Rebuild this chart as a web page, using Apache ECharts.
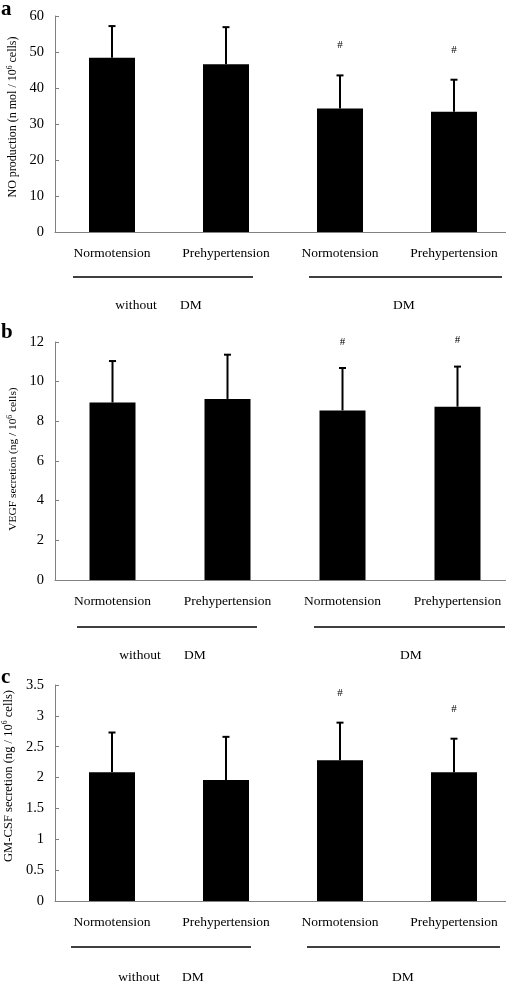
<!DOCTYPE html>
<html><head><meta charset="utf-8">
<script src="https://cdn.jsdelivr.net/npm/echarts@6/dist/echarts.min.js"></script>
<style>html,body{margin:0;padding:0;background:#fff}#c{width:506px;height:981px}</style>
</head><body><div id="c"></div>
<script>
var categories = ['Normotension', 'Prehypertension', 'Normotension', 'Prehypertension'];
var noMeans = [48.4, 46.6, 34.3, 33.4];
var noErrTop = [57.2, 56.9, 43.5, 42.3];
var vegfMeans = [8.95, 9.13, 8.55, 8.74];
var vegfErrTop = [11.04, 11.36, 10.69, 10.76];
var gmMeans = [2.085, 1.96, 2.28, 2.085];
var gmErrTop = [2.73, 2.66, 2.89, 2.63];
var sigFlags = [false, false, true, true];
var yMax = [60, 12, 3.5];
var yInterval = [10, 2, 0.5];
var yNames = ['NO production (n mol / 10', 'VEGF secretion (ng / 10', 'GM-CSF secretion (ng / 10'];
var groupLabels = ['without', 'DM', 'DM'];
var panelLetters = ['a', 'b', 'c'];

var FONT = '"Liberation Serif","Times New Roman",serif';
var means = [noMeans, vegfMeans, gmMeans];
var errs = [noErrTop, vegfErrTop, gmErrTop];
var grids = [
  {left: 55, top: 16, width: 456, height: 216, outerBoundsMode: 'none', containLabel: false},
  {left: 55, top: 342, width: 460, height: 238, outerBoundsMode: 'none', containLabel: false},
  {left: 55, top: 685, width: 456, height: 216, outerBoundsMode: 'none', containLabel: false}
];
var hashGap = [30, 26, 30];
var nameSize = [12, 11.4, 12.6];
var nameShift = [14, 4, 34];

var xAxes = [], yAxes = [], series = [];
for (var i = 0; i < 3; i++) {
  xAxes.push({
    type: 'category', gridIndex: i, data: categories,
    axisLine: {lineStyle: {color: '#808080', width: 1}},
    axisTick: {show: false},
    axisLabel: {color: '#000', fontFamily: FONT, fontSize: 13.5, margin: 14, interval: 0}
  });
  yAxes.push({
    type: 'value', gridIndex: i, min: 0, max: yMax[i], interval: yInterval[i],
    axisLine: {show: true, lineStyle: {color: '#808080', width: 1}},
    axisTick: {show: true, inside: true, length: 4, lineStyle: {color: '#808080'}},
    splitLine: {show: false},
    axisLabel: {color: '#000', fontFamily: FONT, fontSize: 14.5, margin: 11},
    name: '{a|' + yNames[i] + '}{s|6}{a| cells)}',
    nameLocation: 'middle', nameGap: 35, nameRotate: 90,
    nameTextStyle: {padding: [0, 0, 0, nameShift[i]], rich: {
      a: {fontFamily: FONT, fontSize: nameSize[i], color: '#000'},
      s: {fontFamily: FONT, fontSize: 7.5, color: '#000', verticalAlign: 'top', padding: [0, 0, 6, 0]}
    }}
  });
  series.push({
    type: 'bar', xAxisIndex: i, yAxisIndex: i, data: means[i],
    barWidth: 46, itemStyle: {color: '#000'}, silent: true
  });
  (function (k) {
    var errData = means[k].map(function (m, j) { return [j, m, errs[k][j], sigFlags[j] ? 1 : 0]; });
    series.push({
      type: 'custom', xAxisIndex: k, yAxisIndex: k, data: errData, silent: true,
      renderItem: function (params, api) {
        var x = api.value(0);
        var p0 = api.coord([x, api.value(1)]);
        var p1 = api.coord([x, api.value(2)]);
        var children = [
          {type: 'line', shape: {x1: p0[0], y1: p0[1], x2: p1[0], y2: p1[1]}, style: {stroke: '#000', lineWidth: 2}},
          {type: 'line', shape: {x1: p1[0] - 3.5, y1: p1[1], x2: p1[0] + 3.5, y2: p1[1]}, style: {stroke: '#000', lineWidth: 2}}
        ];
        if (api.value(3)) {
          children.push({type: 'text', style: {text: '#', x: p1[0], y: p1[1] - hashGap[k], align: 'center', verticalAlign: 'middle', font: '11px ' + FONT, fill: '#000'}});
        }
        return {type: 'group', children: children};
      }
    });
  })(i);
}

var graphic = [];
var lineY = [277, 627, 947];
var lineSeg = [[[73, 253], [309, 502]], [[77, 257], [314, 505]], [[71, 251], [307, 500]]];
var groupY = [305, 655, 977];
var withoutX = [136, 140, 139];
var dm1X = [191, 195, 193];
var dm2X = [404, 411, 403];
var letterY = [10, 333, 678];
for (var g = 0; g < 3; g++) {
  for (var s = 0; s < 2; s++) {
    graphic.push({type: 'line', shape: {x1: lineSeg[g][s][0], y1: lineY[g], x2: lineSeg[g][s][1], y2: lineY[g]}, style: {stroke: '#000', lineWidth: 1.5}});
  }
  graphic.push({type: 'text', x: withoutX[g], y: groupY[g], style: {text: groupLabels[0], font: '13.5px ' + FONT, fill: '#000', textAlign: 'center', textVerticalAlign: 'middle'}});
  graphic.push({type: 'text', x: dm1X[g], y: groupY[g], style: {text: groupLabels[1], font: '13.5px ' + FONT, fill: '#000', textAlign: 'center', textVerticalAlign: 'middle'}});
  graphic.push({type: 'text', x: dm2X[g], y: groupY[g], style: {text: groupLabels[2], font: '13.5px ' + FONT, fill: '#000', textAlign: 'center', textVerticalAlign: 'middle'}});
  graphic.push({type: 'text', x: 1, y: letterY[g], style: {text: panelLetters[g], font: 'bold 21px ' + FONT, fill: '#000', textAlign: 'left', textVerticalAlign: 'middle'}});
}

var chart = echarts.init(document.getElementById('c'), null, {renderer: 'canvas'});
chart.setOption({
  animation: false,
  backgroundColor: '#fff',
  grid: grids,
  xAxis: xAxes,
  yAxis: yAxes,
  series: series,
  graphic: graphic
});
</script></body></html>
